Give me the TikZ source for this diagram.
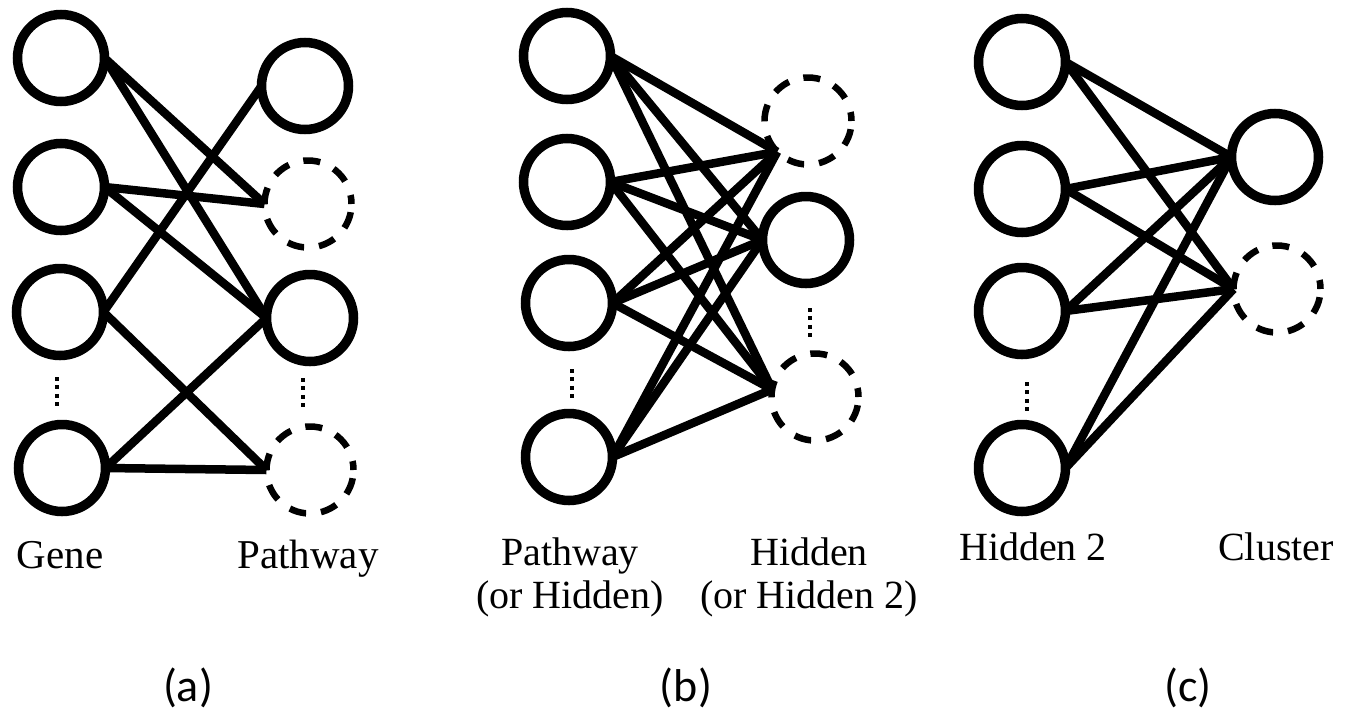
\documentclass[tikz,border=0pt]{standalone}
\usepackage{fontspec}
\setmainfont{Liberation Serif}
\newfontfamily\capfont{Carlito}
\begin{document}
\begin{tikzpicture}[x=1pt,y=-1pt,
  neuron/.style={circle, draw, line width=9.5pt, minimum size=87pt, inner sep=0pt, outer sep=0pt},
  ghost/.style={neuron, line width=6.5pt, dash pattern=on 17pt off 15pt, dash phase=8pt},
  conn/.style={line width=8.5pt},
  dotcol/.style={line width=3.8pt, dash pattern=on 3.8pt off 4.6pt},
  lab/.style={font=\fontsize{40}{43}\selectfont, inner sep=0pt, anchor=base},
  labA/.style={lab, font=\fontsize{41}{44}\selectfont},
  subcap/.style={font=\capfont\fontsize{46}{50}\selectfont, inner sep=0pt, anchor=base}]
\useasboundingbox (0,0) rectangle (1355,713);

% ---------- panel (a)
\node[neuron] (La1) at (61,58) {};
\node[neuron] (La2) at (61,187) {};
\node[neuron] (La3) at (60,312) {};
\node[neuron] (La4) at (62,468) {};
\node[neuron] (Ra1) at (305,86) {};
\node[ghost]  (Ra2) at (308,204) {};
\node[neuron] (Ra3) at (310,318) {};
\node[ghost]  (Ra4) at (310,470) {};
\draw[conn] (La1.east) -- (Ra2.west);
\draw[conn] (La1.east) -- (Ra3.west);
\draw[conn] (La2.east) -- (Ra2.west);
\draw[conn] (La2.east) -- (Ra3.west);
\draw[conn] (La3.east) -- (Ra1.west);
\draw[conn] (La3.east) -- (Ra4.west);
\draw[conn] (La4.east) -- (Ra3.west);
\draw[conn] (La4.east) -- (Ra4.west);
\draw[dotcol] (57,377) -- (57,409);
\draw[dotcol] (303,378) -- (303,410);
\node[labA] (ta1) at (60,568) {Gene};
\node[labA] (ta2) at (308,568) {Pathway};
\node[subcap] (ca) at (188,701) {(a)};

% ---------- panel (b)
\node[neuron] (Lb1) at (567,56) {};
\node[neuron] (Lb2) at (567,182) {};
\node[neuron] (Lb3) at (569,303) {};
\node[neuron] (Lb4) at (569,457) {};
\node[ghost]  (Rb1) at (808,121) {};
\node[neuron] (Rb2) at (806,240) {};
\node[ghost]  (Rb3) at (815,397) {};
\foreach \l in {Lb1,Lb2,Lb3,Lb4}{
  \draw[conn] (\l.east) -- (Rb1.225);
  \draw[conn] (\l.east) -- (Rb2.west);
  \draw[conn] (\l.east) -- (Rb3.170);
}
\draw[dotcol] (572,369) -- (572,401);
\draw[dotcol] (810,308) -- (810,340);
\node[lab] (tb1) at (570,565) {Pathway};
\node[lab] (tb2) at (570,608) {(or Hidden)};
\node[lab] (tb3) at (809,565) {Hidden};
\node[lab] (tb4) at (809,608) {(or Hidden 2)};
\node[subcap] (cb) at (686,701) {(b)};

% ---------- panel (c)
\node[neuron] (Lc1) at (1022,62) {};
\node[neuron] (Lc2) at (1022,189) {};
\node[neuron] (Lc3) at (1022,311) {};
\node[neuron] (Lc4) at (1022,468) {};
\node[neuron] (Rc1) at (1275,157) {};
\node[ghost]  (Rc2) at (1277,289) {};
\foreach \l in {Lc1,Lc2,Lc3,Lc4}{
  \draw[conn] (\l.east) -- (Rc1.west);
  \draw[conn] (\l.east) -- (Rc2.west);
}
\draw[dotcol] (1027,382) -- (1027,414);
\node[lab] (tc1) at (1033,560) {Hidden 2};
\node[lab] (tc2) at (1276,560) {Cluster};
\node[subcap] (cc) at (1188,701) {(c)};
\end{tikzpicture}
\end{document}
